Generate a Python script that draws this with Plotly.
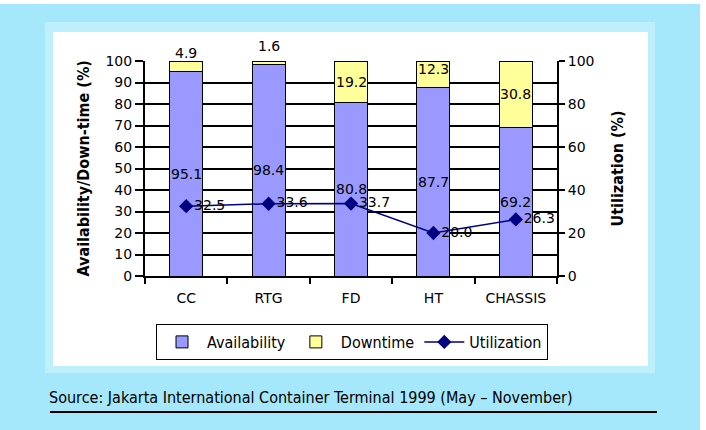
import plotly.graph_objects as go

categories = ["CC", "RTG", "FD", "HT", "CHASSIS"]
availability = [95.1, 98.4, 80.8, 87.7, 69.2]
downtime = [4.9, 1.6, 19.2, 12.3, 30.8]
utilization = [32.5, 33.6, 33.7, 20.0, 26.3]
left_ticks = list(range(0, 101, 10))
right_ticks = list(range(0, 101, 20))

W, H = 706, 430
L, R, T, B = 145, 557, 61, 276  # plot area in px


def px(xp):
    return (xp - L) / (R - L)


def py(yp):
    return (B - yp) / (B - T)


FONT = "DejaVu Sans"
NARROW = "DejaVu Sans Condensed, Liberation Sans Narrow, Liberation Sans, sans-serif"

fig = go.Figure()
fig.add_trace(go.Bar(
    x=categories, y=availability, name="Availability",
    marker=dict(color="#9999FF", line=dict(color="black", width=1)),
))
fig.add_trace(go.Bar(
    x=categories, y=downtime, name="Downtime",
    marker=dict(color="#FFFF99", line=dict(color="black", width=1)),
))
fig.add_trace(go.Scatter(
    x=categories, y=utilization, name="Utilization", yaxis="y2",
    mode="lines+markers+text",
    text=[f"{v:.1f}" for v in utilization], textposition="middle right",
    textfont=dict(family=FONT, size=14, color="black"),
    line=dict(color="#000080", width=1.5),
    marker=dict(symbol="diamond", size=11, color="#000080"),
))

annotations = []
for c, a in zip(categories, availability):
    annotations.append(dict(x=c, y=a / 2, xref="x", yref="y", text=f"{a:.1f}",
                            showarrow=False, font=dict(family=FONT, size=14, color="black")))
for c, a, d in zip(categories, availability, downtime):
    shift = 0
    if d < 3:
        shift = 17
    elif d < 6:
        shift = 13
    elif d < 15:
        shift = 5
    annotations.append(dict(x=c, y=a + d / 2, xref="x", yref="y", text=f"{d:.1f}",
                            yshift=shift, showarrow=False,
                            font=dict(family=FONT, size=14, color="black")))

annotations.append(dict(x=px(83), y=0.5, xref="paper", yref="paper", xanchor="center",
                        yanchor="middle",
                        text="<b>Availability/Down-time (%)</b>", textangle=-90,
                        showarrow=False, font=dict(family=NARROW, size=16, color="black")))
annotations.append(dict(x=px(617), y=0.5, xref="paper", yref="paper", xanchor="center",
                        yanchor="middle",
                        text="<b>Utilization (%)</b>", textangle=-90,
                        showarrow=False, font=dict(family=NARROW, size=16, color="black")))
annotations.append(dict(x=px(47), y=py(397), xref="paper", yref="paper", xanchor="left",
                        yanchor="middle",
                        text="Source: Jakarta International Container Terminal 1999 (May \u2013 November)",
                        showarrow=False, font=dict(family=NARROW, size=16, color="black")))
annotations.append(dict(x=px(47), y=py(426), xref="paper", yref="paper", xanchor="left",
                        yanchor="top", text="<b>Figure 3.7</b>",
                        showarrow=False, font=dict(family=NARROW, size=15, color="black")))

shapes = [
    dict(type="rect", xref="paper", yref="paper", layer="below",
         x0=px(45), x1=px(655), y0=py(22), y1=py(373),
         fillcolor="#BEEFFC", line=dict(width=0)),
    dict(type="rect", xref="paper", yref="paper", layer="below",
         x0=px(53), x1=px(648), y0=py(32), y1=py(366),
         fillcolor="white", line=dict(width=0)),
    dict(type="rect", xref="paper", yref="paper", layer="below",
         x0=px(0), x1=px(706), y0=py(0), y1=py(4),
         fillcolor="white", line=dict(width=0)),
    dict(type="rect", xref="paper", yref="paper", layer="below",
         x0=px(700), x1=px(706), y0=py(0), y1=py(430),
         fillcolor="white", line=dict(width=0)),
    dict(type="line", xref="paper", yref="paper",
         x0=px(50), x1=px(657), y0=py(412), y1=py(412),
         line=dict(color="black", width=2)),
]

fig.update_layout(
    width=W, height=H,
    margin=dict(l=L, r=W - R, t=T, b=H - B, pad=0),
    paper_bgcolor="#A5E7FB", plot_bgcolor="white",
    barmode="stack", bargap=0.6,
    font=dict(family=FONT, size=14, color="black"),
    xaxis=dict(showline=True, linecolor="black", linewidth=2, ticks="outside",
               tickson="boundaries", ticklen=6, tickcolor="black", tickwidth=2,
               showgrid=False, tickfont=dict(family=FONT, size=14),
               ticklabelstandoff=8),
    yaxis=dict(range=[0, 100], tickvals=left_ticks, showline=True, linecolor="black",
               linewidth=2, ticks="outside", ticklen=8, tickcolor="black", tickwidth=2,
               showgrid=True, gridcolor="black", gridwidth=2, zeroline=False,
               tickfont=dict(family=FONT, size=14)),
    yaxis2=dict(range=[0, 100], tickvals=right_ticks, overlaying="y", side="right",
                showline=True, linecolor="black", linewidth=2, ticks="outside",
                ticklen=6, tickcolor="black", tickwidth=2, showgrid=False,
                zeroline=False, tickfont=dict(family=FONT, size=14)),
    legend=dict(orientation="h", x=px(352), y=py(342), xanchor="center", yanchor="middle",
                bgcolor="white", bordercolor="black", borderwidth=1,
                font=dict(family=NARROW, size=16), traceorder="normal",
                itemwidth=40),
    annotations=annotations,
    shapes=shapes,
    showlegend=True,
)

fig.write_html("out.html")
